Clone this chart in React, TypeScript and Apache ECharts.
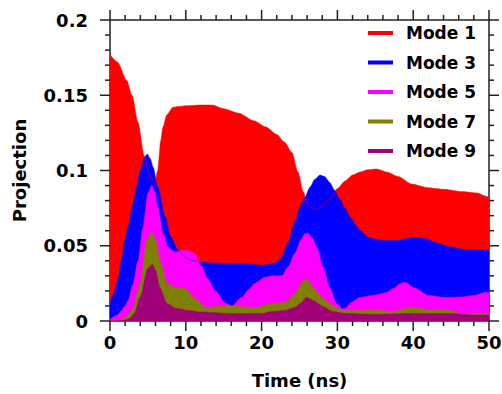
import React, { useEffect, useRef } from "react";
import * as echarts from "echarts";

const seriesNames = ["Mode 1", "Mode 3", "Mode 5", "Mode 7", "Mode 9"];
const seriesColors = ["#FF0000", "#0000FF", "#FF00FF", "#808000", "#A00078"];

const xTickValues = [0, 2, 4, 6, 8, 10, 12, 14, 16, 18, 20, 22, 24, 26, 28, 30, 32, 34, 36, 38, 40, 42, 44, 46, 48, 50];
const yTickValues = [0, 0.01, 0.02, 0.03, 0.04, 0.05, 0.06, 0.07, 0.08, 0.09, 0.1, 0.11, 0.12, 0.13, 0.14, 0.15, 0.16, 0.17, 0.18, 0.19, 0.2];

const mode1T = [0, 1, 2.2, 2.9, 3.7, 4.5, 5.2, 5.9, 6.3, 6.7, 7.0, 7.5, 8.3, 9, 10, 12, 13.5, 15, 17, 19, 20.5, 22, 23, 24, 24.8, 25.5, 26, 27, 28, 29, 30, 31, 32, 33, 34, 35.2, 36.5, 38, 39.8, 42, 44, 46.4, 48.5, 49.5, 50];
const mode1V = [0.177, 0.172, 0.160, 0.150, 0.132, 0.110, 0.097, 0.092, 0.100, 0.120, 0.129, 0.137, 0.142, 0.1425, 0.143, 0.1435, 0.1435, 0.141, 0.138, 0.133, 0.129, 0.124, 0.119, 0.112, 0.099, 0.086, 0.078, 0.074, 0.076, 0.081, 0.088, 0.093, 0.097, 0.099, 0.1005, 0.101, 0.099, 0.096, 0.091, 0.0885, 0.0875, 0.086, 0.085, 0.083, 0.082];

const mode3T = [0, 0.5, 1, 1.5, 2, 2.4, 3, 3.5, 4, 4.5, 4.9, 5.3, 5.7, 6.3, 7.3, 8, 9, 10, 11, 12, 14, 16, 18, 20, 21.5, 22.5, 23.5, 24.4, 25, 25.7, 26.4, 27, 27.7, 28.3, 29, 29.6, 30.3, 31, 31.7, 32.4, 33, 34.3, 36, 38, 40, 41.5, 43, 45, 47, 49.5, 50];
const mode3V = [0.012, 0.018, 0.027, 0.040, 0.054, 0.063, 0.077, 0.089, 0.100, 0.108, 0.111, 0.108, 0.102, 0.089, 0.069, 0.056, 0.047, 0.042, 0.040, 0.039, 0.0385, 0.038, 0.038, 0.037, 0.038, 0.041, 0.052, 0.066, 0.075, 0.082, 0.089, 0.094, 0.097, 0.096, 0.092, 0.087, 0.081, 0.075, 0.069, 0.064, 0.060, 0.055, 0.0535, 0.0535, 0.0557, 0.055, 0.052, 0.049, 0.0475, 0.047, 0.047];

const mode5T = [0, 1, 1.5, 2, 2.4, 3, 3.7, 4.35, 5, 5.5, 5.9, 6.3, 7, 7.65, 8.6, 9.5, 10.2, 11.2, 12, 12.9, 13.9, 15.2, 16.1, 17.4, 18.3, 19.1, 20.4, 21.5, 22.7, 23.5, 24.4, 25.2, 25.7, 26.1, 26.7, 27.3, 28.1, 29, 29.9, 30.7, 31.2, 31.7, 33, 34.7, 36.5, 37.5, 38.3, 38.9, 40.2, 42, 44.2, 46.4, 48, 49.5, 50];
const mode5V = [0.001, 0.004, 0.007, 0.010, 0.0137, 0.024, 0.040, 0.062, 0.085, 0.090, 0.086, 0.076, 0.058, 0.049, 0.0457, 0.047, 0.047, 0.045, 0.037, 0.028, 0.020, 0.012, 0.010, 0.0157, 0.021, 0.025, 0.029, 0.030, 0.030, 0.036, 0.045, 0.054, 0.058, 0.0585, 0.055, 0.049, 0.036, 0.022, 0.0117, 0.008, 0.009, 0.012, 0.0157, 0.017, 0.019, 0.022, 0.025, 0.0257, 0.022, 0.017, 0.0157, 0.016, 0.017, 0.019, 0.019];

const mode7T = [0, 1, 2, 3, 4, 4.85, 5.5, 6.0, 6.6, 7.5, 8.8, 9.9, 11, 12.7, 13.9, 16.1, 19.1, 21.4, 23.1, 24.4, 25.2, 25.9, 26.8, 28.1, 29.4, 30.7, 33, 34.7, 37, 39.8, 42, 44.2, 46.4, 48.9, 50];
const mode7V = [0, 0.0005, 0.002, 0.008, 0.025, 0.0537, 0.059, 0.054, 0.040, 0.025, 0.0217, 0.0217, 0.0157, 0.009, 0.0097, 0.010, 0.009, 0.0117, 0.0123, 0.018, 0.025, 0.028, 0.022, 0.015, 0.010, 0.007, 0.007, 0.0077, 0.0063, 0.009, 0.0077, 0.0077, 0.005, 0.005, 0.005];

const mode9T = [0, 2, 2.6, 3.2, 4, 5.0, 5.6, 6.0, 6.6, 7.5, 8.8, 10.3, 11.9, 16, 20, 21.4, 23, 24.4, 25.2, 25.9, 26.8, 28.1, 29.4, 31, 35, 40, 45, 48, 50];
const mode9V = [0, 0.0005, 0.0017, 0.005, 0.016, 0.035, 0.0377, 0.0337, 0.022, 0.0117, 0.0083, 0.007, 0.006, 0.005, 0.005, 0.0063, 0.007, 0.009, 0.012, 0.0157, 0.0137, 0.0097, 0.0063, 0.005, 0.0045, 0.005, 0.005, 0.004, 0.004];

const allT = [mode1T, mode3T, mode5T, mode7T, mode9T];
const allV = [mode1V, mode3V, mode5V, mode7V, mode9V];

const FONT = "DejaVu Sans";
const AXIS_COLOR = "#222";

const mkLine = () => ({ show: true, onZero: false, lineStyle: { color: AXIS_COLOR, width: 1.5 } });
const mkLabel = () => ({ color: "#000", fontFamily: FONT, fontWeight: "bold" as const, fontSize: 18 });

const isMultiple = (v: number, step: number) => Math.abs(v / step - Math.round(v / step)) < 1e-6;

export default function App() {
  const ref = useRef<HTMLDivElement>(null);
  useEffect(() => {
    document.body.style.margin = "0";
    if (!ref.current) return;
    const chart = echarts.init(ref.current, null, { renderer: "svg" });
    const tickStyle = { stroke: AXIS_COLOR, lineWidth: 1.5 };
    chart.setOption({
      animation: false,
      backgroundColor: "#fff",
      grid: { left: 110, right: 13, top: 20, bottom: 73, outerBoundsMode: "none" },
      legend: {
        orient: "vertical",
        left: 363,
        top: 18,
        itemWidth: 25,
        itemHeight: 4,
        itemGap: 9.5,
        icon: "rect",
        data: seriesNames,
        textStyle: { color: "#000", fontFamily: FONT, fontWeight: "bold", fontSize: 17, lineHeight: 20, padding: [0, 0, 0, 8] },
      },
      xAxis: [
        {
          type: "value",
          min: 0,
          max: 50,
          interval: 10,
          position: "bottom",
          name: "Time (ns)",
          nameLocation: "middle",
          nameGap: 50,
          nameTextStyle: mkLabel(),
          axisLine: mkLine(),
          axisTick: { show: false },
          splitLine: { show: false },
          axisLabel: { ...mkLabel(), margin: 12 },
        },
        {
          type: "value",
          min: 0,
          max: 50,
          interval: 10,
          position: "top",
          axisLine: mkLine(),
          axisTick: { show: false },
          splitLine: { show: false },
          axisLabel: { show: false },
        },
      ],
      yAxis: [
        {
          type: "value",
          min: 0,
          max: 0.2,
          interval: 0.05,
          position: "left",
          name: "Projection",
          nameLocation: "middle",
          nameGap: 82,
          nameTextStyle: mkLabel(),
          axisLine: mkLine(),
          axisTick: { show: false },
          splitLine: { show: false },
          axisLabel: { ...mkLabel(), margin: 22 },
        },
        {
          type: "value",
          min: 0,
          max: 0.2,
          interval: 0.05,
          position: "right",
          axisLine: mkLine(),
          axisTick: { show: false },
          splitLine: { show: false },
          axisLabel: { show: false },
        },
      ],
      series: [
        ...seriesNames.map((name, i) => ({
          name,
          type: "line",
          xAxisIndex: 0,
          yAxisIndex: 0,
          data: allT[i].map((t, j) => [t, allV[i][j]]),
          showSymbol: false,
          smooth: 0.25,
          smoothMonotone: "x",
          itemStyle: { color: seriesColors[i] },
          lineStyle: { color: seriesColors[i], width: 0.5 },
          areaStyle: { color: seriesColors[i], opacity: 1 },
        })),
        {
          type: "custom",
          name: "xTicks",
          xAxisIndex: 0,
          yAxisIndex: 0,
          silent: true,
          clip: false,
          z: 10,
          data: xTickValues.map((v) => [v, 0]),
          encode: { x: 0, y: 1 },
          renderItem: (params: any, api: any) => {
            const v = api.value(0);
            const pb = api.coord([v, 0]);
            const pt = api.coord([v, 0.2]);
            const len = isMultiple(v, 10) ? 10 : 5;
            return {
              type: "group",
              children: [
                { type: "line", shape: { x1: pb[0], y1: pb[1], x2: pb[0], y2: pb[1] + len }, style: tickStyle },
                { type: "line", shape: { x1: pt[0], y1: pt[1], x2: pt[0], y2: pt[1] - len }, style: tickStyle },
              ],
            };
          },
        },
        {
          type: "custom",
          name: "yTicks",
          xAxisIndex: 0,
          yAxisIndex: 0,
          silent: true,
          clip: false,
          z: 10,
          data: yTickValues.map((v) => [0, v]),
          encode: { x: 0, y: 1 },
          renderItem: (params: any, api: any) => {
            const v = api.value(1);
            const pl = api.coord([0, v]);
            const pr = api.coord([50, v]);
            const len = isMultiple(v, 0.05) ? 10 : 5;
            return {
              type: "group",
              children: [
                { type: "line", shape: { x1: pl[0], y1: pl[1], x2: pl[0] - len, y2: pl[1] }, style: tickStyle },
                { type: "line", shape: { x1: pr[0], y1: pr[1], x2: pr[0] + len, y2: pr[1] }, style: tickStyle },
              ],
            };
          },
        },
      ],
    });
    return () => chart.dispose();
  }, []);
  return <div ref={ref} style={{ width: 502, height: 394 }} />;
}
